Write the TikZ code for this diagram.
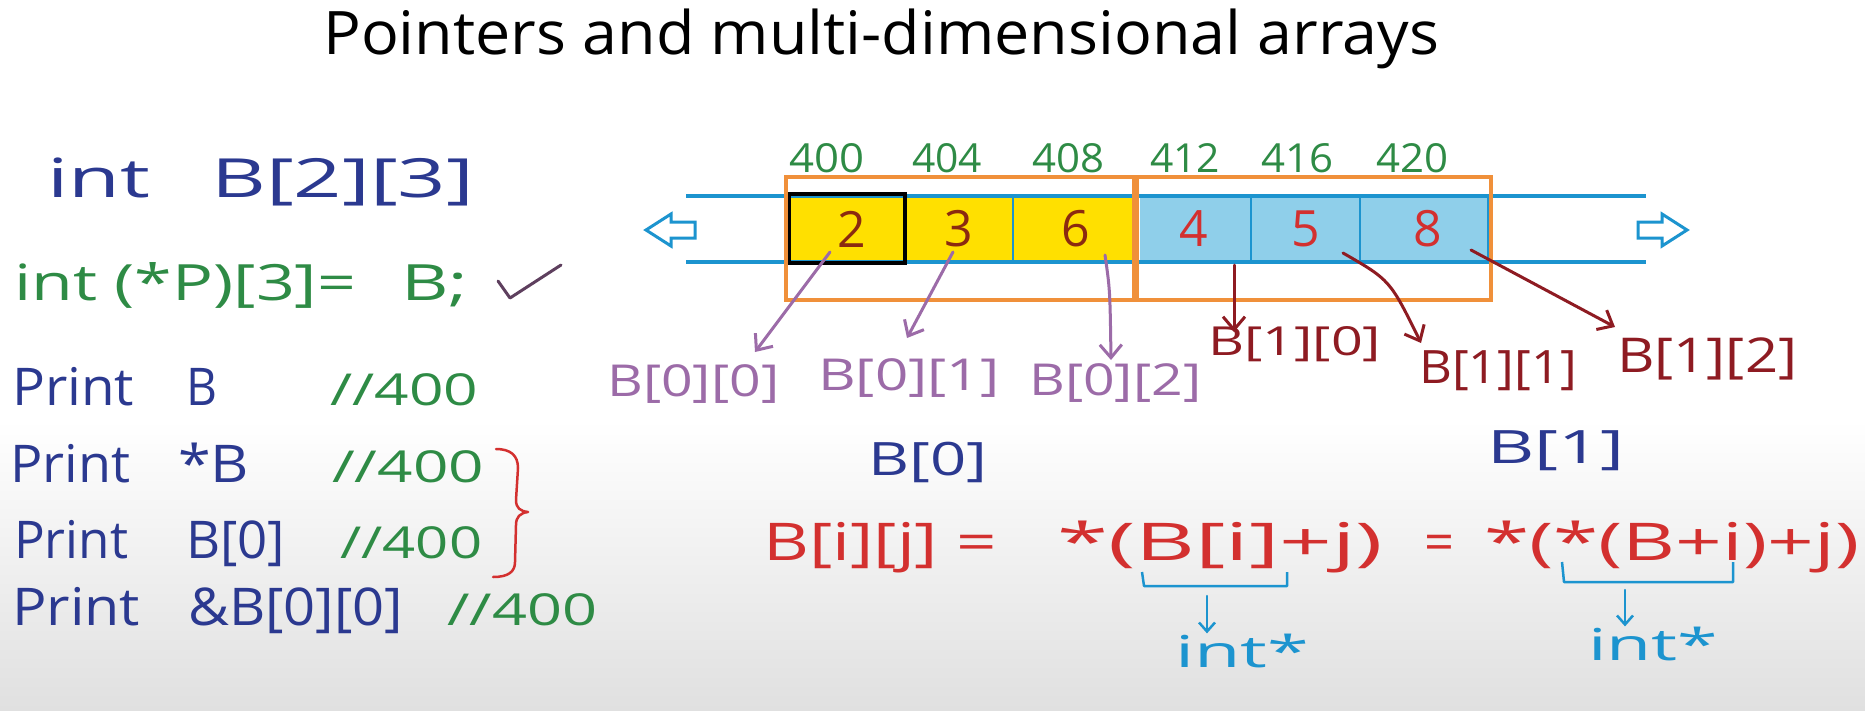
\documentclass[tikz,border=0pt]{standalone}
\usepackage{fontspec}
\setmainfont{Open Sans}
\usepackage{graphicx}
\usetikzlibrary{arrows.meta}
\definecolor{navy}{HTML}{2B3990}
\definecolor{hgreen}{HTML}{2E8B45}
\definecolor{hred}{HTML}{D3302F}
\definecolor{dred}{HTML}{8E1B22}
\definecolor{purp}{HTML}{9C6BA8}
\definecolor{cyanb}{HTML}{1C94CF}
\definecolor{orng}{HTML}{F0903A}
\definecolor{yell}{HTML}{FFE000}
\definecolor{lblue}{HTML}{8FCFEA}
\definecolor{chk}{HTML}{5E3F5E}
\definecolor{numbr}{HTML}{8B2A10}
\newcommand{\fs}[1]{\fontsize{#1}{#1}\selectfont}
\newcommand{\fw}[2]{\resizebox{#1pt}{\height}{#2}}
\begin{document}
\begin{tikzpicture}[x=1pt,y=-1pt,
  txt/.style={inner sep=0pt,anchor=base west},
  addr/.style={inner sep=0pt,anchor=center,text=hgreen,font=\fs{40}},
  num/.style={inner sep=0pt,anchor=center,font=\fs{50}},
  parr/.style={draw=purp,line width=3pt,line cap=round,-{Straight Barb[length=13pt,width=22pt]}},
  rarr/.style={draw=dred,line width=3pt,line cap=round,-{Straight Barb[length=13pt,width=22pt]}},
  barr/.style={draw=cyanb,line width=2.5pt,line cap=round,-{Straight Barb[length=9pt,width=16pt]}},
  bline/.style={draw=cyanb,line width=4pt},
  obox/.style={draw=orng,line width=3.5pt}]
\useasboundingbox (0,0) rectangle (1865,710);
\fill[white] (0,0) rectangle (1865,710);
\shade[top color=white,bottom color={rgb,255:red,224;green,224;blue,224}] (0,420) rectangle (1865,710);

% title
\node[txt,font=\fs{60}] (title) at (323,54) {\fw{1116}{Pointers and multi-dimensional arrays}};

% left column
\node[txt,font=\fs{54},text=navy] (l1a) at (47,197) {\fw{103}{int}};
\node[txt,font=\fs{54},text=navy] (l1b) at (211,197) {\fw{263}{B[2][3]}};
\node[txt,font=\fs{50},text=hgreen] (l2a) at (14,300) {\fw{342}{int (*P)[3]=}};
\node[txt,font=\fs{50},text=hgreen] (l2b) at (401,300) {\fw{67}{B;}};
\draw[chk,line width=3pt,line cap=round,line join=round] (498,281) -- (510,298) -- (561,265);

\node[txt,font=\fs{52},text=navy] (p1) at (12,405) {\fw{122}{Print}};
\node[txt,font=\fs{52},text=navy] (p1b) at (186,405) {\fw{31}{B}};
\node[txt,font=\fs{44},text=hgreen] (p1c) at (330,405) {\fw{148}{//400}};

\node[txt,font=\fs{52},text=navy] (p2) at (10,482) {\fw{120}{Print}};
\node[txt,font=\fs{52},text=navy] (p2b) at (178,482) {\fw{71}{*B}};
\node[txt,font=\fs{44},text=hgreen] (p2c) at (332,482) {\fw{152}{//400}};

\node[txt,font=\fs{52},text=navy] (p3) at (14,558) {\fw{114}{Print}};
\node[txt,font=\fs{52},text=navy] (p3b) at (186,558) {\fw{99}{B[0]}};
\node[txt,font=\fs{44},text=hgreen] (p3c) at (340,558) {\fw{142}{//400}};

\node[txt,font=\fs{52},text=navy] (p4) at (12,625) {\fw{128}{Print}};
\node[txt,font=\fs{52},text=navy] (p4b) at (188,625) {\fw{215}{\&B[0][0]}};
\node[txt,font=\fs{44},text=hgreen] (p4c) at (447,625) {\fw{150}{//400}};

% red brace
\draw[hred,line width=2.5pt,line cap=round,line join=round]
  (496,449) .. controls (510,449) and (518,455) .. (518,468)
  -- (516,500) .. controls (516,508) and (520,511) .. (528,512)
  .. controls (520,513) and (516,517) .. (516,525)
  -- (515,562) .. controls (515,572) and (508,577) .. (493,577);

% memory strip
\fill[yell] (789,196) rectangle (1134,262);
\fill[lblue] (1140,196) rectangle (1488,262);
\draw[bline] (686,196) -- (1646,196);
\draw[bline] (686,262) -- (1646,262);
\draw[cyanb,line width=2.5pt] (1013,196) -- (1013,262);
\draw[cyanb,line width=2.5pt] (1251,196) -- (1251,262);
\draw[cyanb,line width=2.5pt] (1360,196) -- (1360,262);
\draw[cyanb,line width=2.5pt] (1488,196) -- (1488,262);
\draw[black,line width=4pt] (789,194) rectangle (905,263);
\draw[obox] (786,177) rectangle (1134,300);
\draw[obox] (1137,177) rectangle (1491,300);

% hollow arrows
\draw[cyanb,line width=3pt,fill=white,line join=miter]
  (646,230) -- (671,214) -- (671,222) -- (695,222) -- (695,238) -- (671,238) -- (671,246) -- cycle;
\draw[cyanb,line width=3pt,fill=white,line join=miter]
  (1687,230) -- (1662,214) -- (1662,222) -- (1638,222) -- (1638,238) -- (1662,238) -- (1662,246) -- cycle;

% numbers
\node[num,text=numbr] (n1) at (852,229) {2};
\node[num,text=numbr] (n2) at (959,229) {3};
\node[num,text=numbr] (n3) at (1076,229) {6};
\node[num,text=hred] (n4) at (1194,229) {4};
\node[num,text=hred] (n5) at (1306,229) {5};
\node[num,text=hred] (n6) at (1428,229) {8};

% addresses
\node[addr] (a1) at (827,158) {\fw{75}{400}};
\node[addr] (a2) at (947,158) {\fw{70}{404}};
\node[addr] (a3) at (1068,158) {\fw{72}{408}};
\node[addr] (a4) at (1185,158) {\fw{70}{412}};
\node[addr] (a5) at (1297,158) {\fw{72}{416}};
\node[addr] (a6) at (1412,158) {\fw{72}{420}};

% element labels
\node[txt,font=\fs{44},text=purp] (b00) at (607,396) {\fw{172}{B[0][0]}};
\node[txt,font=\fs{44},text=purp] (b01) at (818,390) {\fw{181}{B[0][1]}};
\node[txt,font=\fs{44},text=purp] (b02) at (1029,395) {\fw{172}{B[0][2]}};
\node[txt,font=\fs{40},text=dred] (b10) at (1208,355) {\fw{173}{B[1][0]}};
\node[txt,font=\fs{46},text=dred] (b11) at (1419,383) {\fw{158}{B[1][1]}};
\node[txt,font=\fs{48},text=dred] (b12) at (1617,372) {\fw{180}{B[1][2]}};

\coordinate (s1) at (830,252); \coordinate (e1) at (755,352);
\coordinate (s2) at (953,252); \coordinate (e2) at (907,338);
\coordinate (s3) at (1105,255); \coordinate (e3) at (1111,360);
\coordinate (s4) at (1234,265); \coordinate (e4) at (1234,332);
\coordinate (s5) at (1343,253); \coordinate (e5) at (1421,343);
\coordinate (s6) at (1471,250); \coordinate (e6) at (1615,327);
\draw[parr] (s1) -- (e1);
\draw[parr] (s2) -- (e2);
\draw[parr] (s3) .. controls (1110,290) .. (e3);
\draw[rarr] (s4) -- (e4);
\draw[rarr] (s5) .. controls (1390,280) .. (e5);
\draw[rarr] (s6) -- (e6);

% row labels
\node[txt,font=\fs{46},text=navy] (r0) at (868,475) {\fw{119}{B[0]}};
\node[txt,font=\fs{46},text=navy] (r1) at (1487,463) {\fw{137}{B[1]}};

% equation
\node[txt,font=\fs{52},text=hred] (q1) at (763,560) {\fw{234}{B[i][j] =}};
\node[txt,font=\fs{52},text=hred] (q2) at (1057,560) {\fw{326}{*(B[i]+j)}};
\node[txt,font=\fs{52},text=hred] (q3) at (1424,560) {\fw{30}{=}};
\node[txt,font=\fs{52},text=hred] (q4) at (1484,560) {\fw{375}{*(*(B+i)+j)}};

% underbraces
\draw[cyanb,line width=2.5pt,line join=round] (1142,572) -- (1144,586) -- (1287,586) -- (1287,572);
\draw[cyanb,line width=2.5pt,line join=round] (1562,562) -- (1564,582) -- (1733,582) -- (1733,562);
\node[txt,font=\fs{44},text=cyanb] (t1) at (1175,667) {\fw{134}{int*}};
\node[txt,font=\fs{44},text=cyanb] (t2) at (1588,660) {\fw{130}{int*}};
\coordinate (u1) at (1207,596);
\coordinate (u2) at (1625,590);
\draw[barr] (u1) -- (u1 |- t1.north);
\draw[barr] (u2) -- (u2 |- t2.north);
\end{tikzpicture}
\end{document}
